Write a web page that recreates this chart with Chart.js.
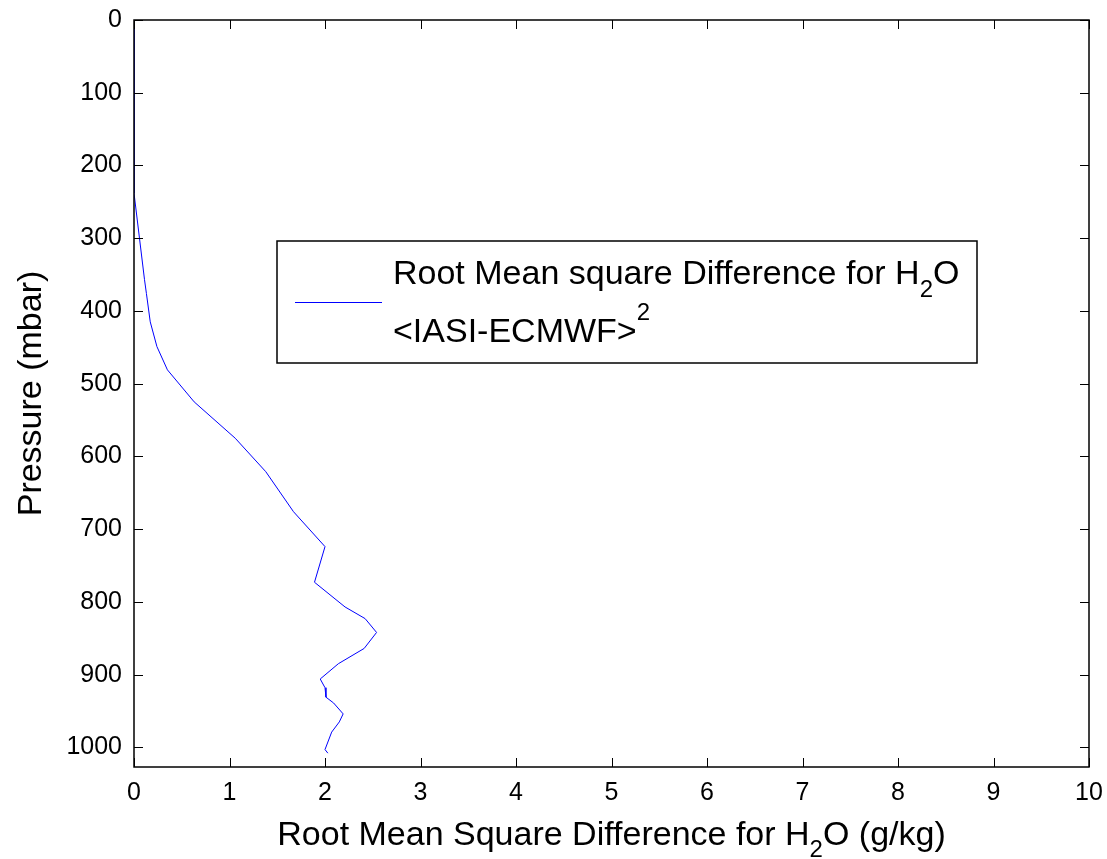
<!DOCTYPE html>
<html>
<head>
<meta charset="utf-8">
<title>RMS difference H2O</title>
<script src="https://cdn.jsdelivr.net/npm/chart.js@4"></script>
<style>
  html, body { margin: 0; padding: 0; background: #fff; }
  #chart { display: block; }
</style>
</head>
<body>
<canvas id="chart" width="1107" height="859"></canvas>
<script>
// profile values
const pressureLevels = [0, 100, 200, 238, 357, 376, 415, 449, 481, 525, 575, 621, 676, 724, 773, 807, 823, 842, 864, 885, 906, 918, 931, 939, 954, 965, 979, 1003, 1008];
const rmsDiff = [0, 0, 0, 0, 0.11, 0.13, 0.17, 0.24, 0.35, 0.63, 1.06, 1.38, 1.67, 2.00, 1.89, 2.21, 2.42, 2.54, 2.41, 2.14, 1.95, 2.00, 2.01, 2.09, 2.19, 2.15, 2.07, 2.00, 2.03];

const xRange = [0, 10];
const yRange = [0, 1027];

const legendLine1 = ["Root Mean square Difference for H", "2", "O"];
const legendLine2 = ["<IASI-ECMWF>", "2"];
const xTitle = ["Root Mean Square Difference for H", "2", "O (g/kg)"];
const yTitle = "Pressure (mbar)";

const FONT = "'Liberation Sans', Arial, sans-serif";

// draw a string made of pieces; odd pieces are sub/superscripts
function drawPieces(ctx, pieces, x, y, size, smallSize, shift, align) {
    const widths = pieces.map((p, i) => {
        ctx.font = (i % 2 === 1 ? smallSize : size) + "px " + FONT;
        return ctx.measureText(p).width;
    });
    const total = widths.reduce((a, b) => a + b, 0);
    let cx = align === "center" ? x - total / 2 : x;
    ctx.textAlign = "left";
    ctx.textBaseline = "alphabetic";
    pieces.forEach((p, i) => {
        const small = i % 2 === 1;
        ctx.font = (small ? smallSize : size) + "px " + FONT;
        ctx.fillText(p, cx, small ? y + shift : y);
        cx += widths[i];
    });
}

const matlabFrame = {
    id: "matlabFrame",
    afterDraw(chart) {
        const { ctx, chartArea: a, scales: { x, y } } = chart;
        ctx.save();
        ctx.strokeStyle = "#000";
        ctx.fillStyle = "#000";
        ctx.lineWidth = 1.5;
        ctx.strokeRect(a.left, a.top, a.right - a.left, a.bottom - a.top);

        // inward tick marks on all four sides
        ctx.lineWidth = 1;
        const tl = 9;
        ctx.beginPath();
        x.ticks.forEach(t => {
            const px = Math.round(x.getPixelForValue(t.value)) + 0.5;
            ctx.moveTo(px, a.bottom); ctx.lineTo(px, a.bottom - tl);
            ctx.moveTo(px, a.top); ctx.lineTo(px, a.top + tl);
        });
        y.ticks.forEach(t => {
            const py = Math.round(y.getPixelForValue(t.value)) + 0.5;
            ctx.moveTo(a.left, py); ctx.lineTo(a.left + tl, py);
            ctx.moveTo(a.right, py); ctx.lineTo(a.right - tl, py);
        });
        ctx.stroke();

        // axis titles
        drawPieces(ctx, xTitle, (a.left + a.right) / 2, a.bottom + 78, 34, 24, 12, "center");
        ctx.save();
        ctx.translate(41, (a.top + a.bottom) / 2);
        ctx.rotate(-Math.PI / 2);
        ctx.font = "34px " + FONT;
        ctx.textAlign = "center";
        ctx.textBaseline = "alphabetic";
        ctx.fillText(yTitle, 0, 0);
        ctx.restore();

        // legend box
        const lx = a.left + 143, ly = a.top + 221, lw = 700, lh = 122;
        ctx.fillStyle = "#fff";
        ctx.fillRect(lx, ly, lw, lh);
        ctx.lineWidth = 1.5;
        ctx.strokeRect(lx, ly, lw, lh);
        const ds = chart.data.datasets[0];
        ctx.strokeStyle = ds.borderColor;
        ctx.lineWidth = 1;
        ctx.beginPath();
        ctx.moveTo(lx + 18, ly + 61.5);
        ctx.lineTo(lx + 105, ly + 61.5);
        ctx.stroke();
        ctx.fillStyle = "#000";
        drawPieces(ctx, legendLine1, lx + 116, ly + 43, 34, 24, 13, "left");
        drawPieces(ctx, legendLine2, lx + 116, ly + 101, 34, 24, -22, "left");
        ctx.restore();
    }
};

const points = pressureLevels.map((p, i) => ({ x: rmsDiff[i], y: p }));

new Chart(document.getElementById("chart"), {
    type: "scatter",
    data: {
        datasets: [{
            label: "Root Mean square Difference for H2O <IASI-ECMWF>^2",
            data: points,
            showLine: true,
            borderColor: "#0000ff",
            borderWidth: 1,
            pointRadius: 0,
            fill: false,
            tension: 0
        }]
    },
    options: {
        responsive: false,
        animation: false,
        devicePixelRatio: 1,
        layout: { padding: { top: 20, right: 18, left: 0, bottom: 0 } },
        plugins: { legend: { display: false }, tooltip: { enabled: false } },
        scales: {
            x: {
                type: "linear",
                min: xRange[0],
                max: xRange[1],
                ticks: { stepSize: 1, color: "#000", padding: 11, font: { size: 25, family: FONT },
                         callback: v => String(v) },
                grid: { display: false, drawTicks: false },
                border: { display: false },
                afterFit: s => { s.height = 92; s.paddingLeft = 0; s.paddingRight = 0; }
            },
            y: {
                type: "linear",
                reverse: true,
                min: yRange[0],
                max: yRange[1],
                ticks: { stepSize: 100, includeBounds: false, color: "#000", padding: 12, font: { size: 25, family: FONT },
                         callback: v => String(v) },
                grid: { display: false, drawTicks: false },
                border: { display: false },
                afterFit: s => { s.width = 134; s.paddingTop = 0; s.paddingBottom = 0; }
            }
        }
    },
    plugins: [matlabFrame]
});
</script>
</body>
</html>
